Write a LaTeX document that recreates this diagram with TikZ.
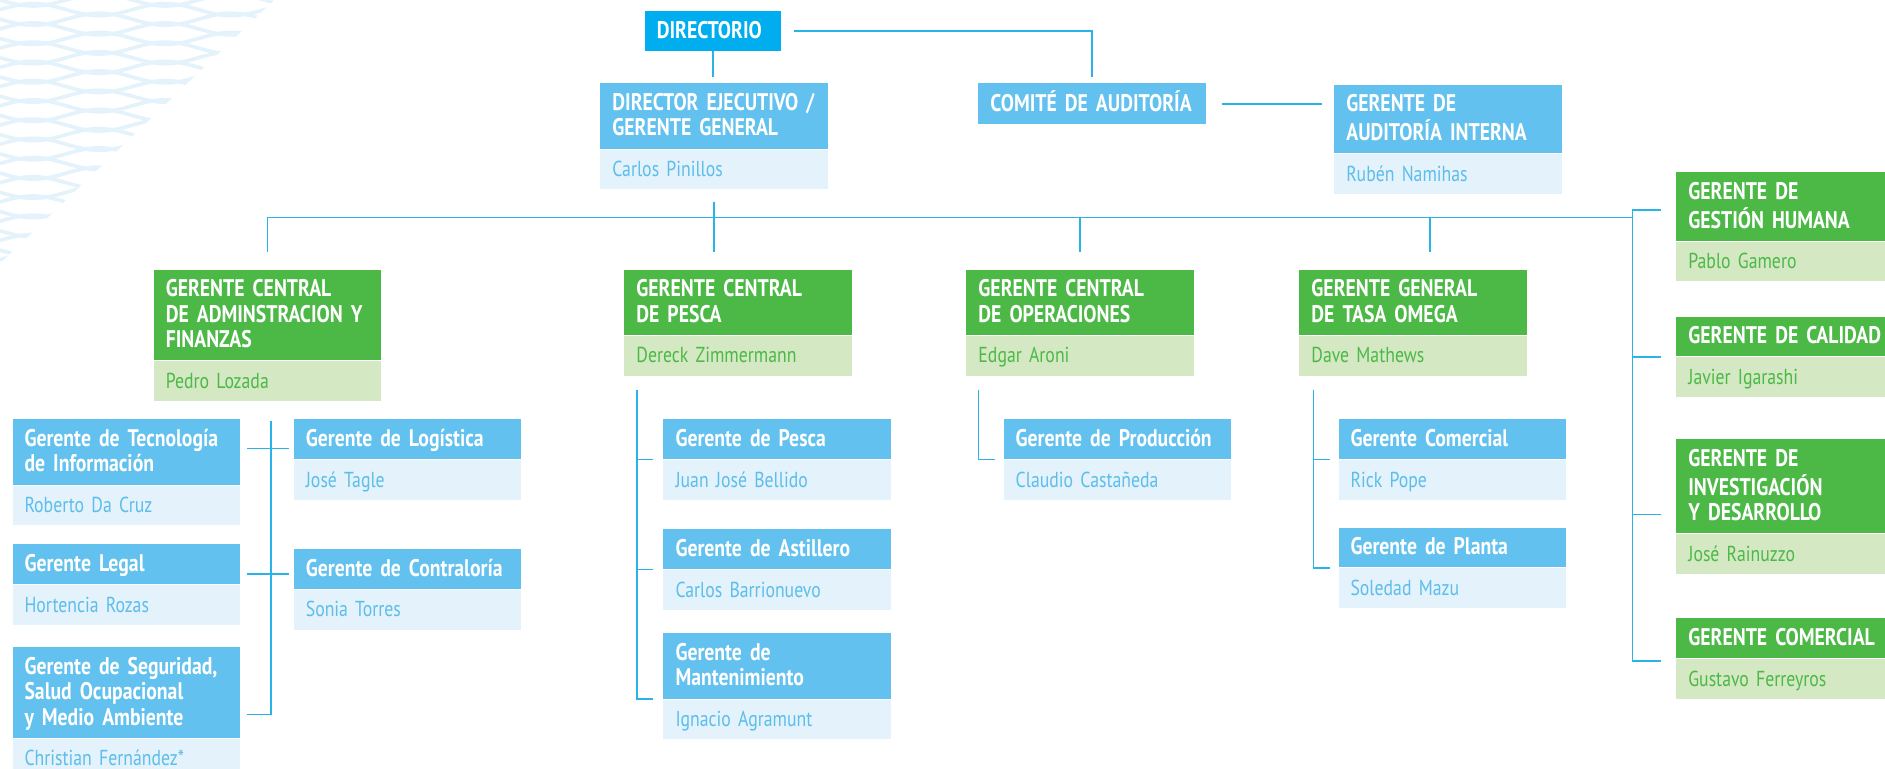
\documentclass[tikz,border=0pt]{standalone}
\usepackage{fontspec}
\setmainfont{PT Sans}[FakeStretch=0.82]
\usetikzlibrary{positioning}
\definecolor{dirblue}{HTML}{00AEEF}
\definecolor{hdrblue}{HTML}{62C1EE}
\definecolor{bandblue}{HTML}{E3F2FB}
\definecolor{txtblue}{HTML}{5DBDEB}
\definecolor{hdrgreen}{HTML}{4CB947}
\definecolor{bandgreen}{HTML}{D3E8C3}
\definecolor{txtgreen}{HTML}{4CB947}
\definecolor{linkblue}{HTML}{29B3E8}
\definecolor{netblue}{HTML}{E3F2FB}
\newcommand{\boxstrut}{\rule[-2.25pt]{0pt}{10.5pt}}

\begin{document}
\begin{tikzpicture}[x=0.5pt, y=-0.5pt]
		\tikzset{
			box/.style={rectangle, align=left, text width=84.5pt, inner xsep=5pt, inner ysep=3pt,
			execute at begin node=\boxstrut, execute at end node=\boxstrut},
			headblue/.style={box, anchor=north west, fill=hdrblue, text=white, font=\bfseries\fontsize{10}{10.6}\selectfont},
			headgreen/.style={box, anchor=north west, fill=hdrgreen, text=white, font=\bfseries\fontsize{10}{10.6}\selectfont},
			bandb/.style={box, fill=bandblue, text=txtblue, font=\fontsize{9}{10.6}\selectfont},
			bandg/.style={box, fill=bandgreen, text=txtgreen, font=\fontsize{9}{10.6}\selectfont},
			link/.style={draw=linkblue, line width=0.6pt},
			net/.style={draw=netblue, line width=1.5pt}
		}
		\useasboundingbox (0,0) rectangle (1568,639);

		% background net
		\begin{scope}
			\clip (0,0) -- (228,0) -- (0,219) -- cycle;
			\foreach \r in {-16,0,...,232} {
				\draw[net] plot[domain=0:240, samples=61] (\x, {\r + 5*sin(\x*3.27)});
				\draw[net] plot[domain=0:240, samples=61] (\x, {\r + 8 - 5*sin(\x*3.27)});
			}
		\end{scope}

		% top
		\node[headblue, fill=dirblue, text width=46.75pt] (dir) at (536,9) {DIRECTORIO};
		\node[headblue] (ceo) at (499,69) {\mbox{DIRECTOR EJECUTIVO /}\\GERENTE GENERAL};
		\node[bandb, below=0pt of ceo] (ceoN) {Carlos Pinillos};
		\node[headblue] (comite) at (813.5,69) {\mbox{COMITÉ DE AUDITORÍA}};
		\node[headblue] (audit) at (1109.5,70) {GERENTE DE\\AUDITORÍA INTERNA};
		\node[bandb, below=0pt of audit] (auditN) {Rubén Namihas};

		% gerencias centrales
		\node[headgreen] (adm) at (127.5,224) {GERENTE CENTRAL\\\mbox{DE ADMINSTRACION Y}\\FINANZAS};
		\node[bandg, below=0pt of adm] (admN) {Pedro Lozada};
		\node[headgreen] (pesca) at (519,224) {GERENTE CENTRAL\\DE PESCA};
		\node[bandg, below=0pt of pesca] (pescaN) {Dereck Zimmermann};
		\node[headgreen] (oper) at (803.5,224) {GERENTE CENTRAL\\DE OPERACIONES};
		\node[bandg, below=0pt of oper] (operN) {Edgar Aroni};
		\node[headgreen] (omega) at (1080.5,224) {GERENTE GENERAL\\DE TASA OMEGA};
		\node[bandg, below=0pt of omega] (omegaN) {Dave Mathews};

		% columna derecha
		\node[headgreen] (gh) at (1394,143) {GERENTE DE\\GESTIÓN HUMANA};
		\node[bandg, below=0pt of gh] (ghN) {Pablo Gamero};
		\node[headgreen] (cal) at (1394,263) {\mbox{GERENTE DE CALIDAD}};
		\node[bandg, below=0pt of cal] (calN) {Javier Igarashi};
		\node[headgreen] (inv) at (1394,365) {GERENTE DE\\INVESTIGACIÓN\\Y DESARROLLO};
		\node[bandg, below=0pt of inv] (invN) {José Rainuzzo};
		\node[headgreen] (com) at (1394,514) {\mbox{GERENTE COMERCIAL}};
		\node[bandg, below=0pt of com] (comN) {Gustavo Ferreyros};

		% administracion y finanzas
		\node[headblue] (tec) at (10,348.5) {\mbox{Gerente de Tecnología}\\de Información};
		\node[bandb, below=0pt of tec] (tecN) {Roberto Da Cruz};
		\node[headblue] (legal) at (10,452.5) {Gerente Legal};
		\node[bandb, below=0pt of legal] (legalN) {Hortencia Rozas};
		\node[headblue] (seg) at (10,538) {\mbox{Gerente de Seguridad,}\\Salud Ocupacional\\y Medio Ambiente};
		\node[bandb, below=0pt of seg] (segN) {Christian Fernández*};
		\node[headblue] (log) at (244,348.5) {Gerente de Logística};
		\node[bandb, below=0pt of log] (logN) {José Tagle};
		\node[headblue] (contra) at (244,456.5) {Gerente de Contraloría};
		\node[bandb, below=0pt of contra] (contraN) {Sonia Torres};

		% pesca
		\node[headblue] (gpes) at (551.5,348.5) {Gerente de Pesca};
		\node[bandb, below=0pt of gpes] (gpesN) {Juan José Bellido};
		\node[headblue] (ast) at (551.5,440) {Gerente de Astillero};
		\node[bandb, below=0pt of ast] (astN) {Carlos Barrionuevo};
		\node[headblue] (mant) at (551.5,526.5) {Gerente de\\Mantenimiento};
		\node[bandb, below=0pt of mant] (mantN) {Ignacio Agramunt};

		% operaciones y tasa omega
		\node[headblue] (prod) at (834.5,348.5) {\mbox{Gerente de Producción}};
		\node[bandb, below=0pt of prod] (prodN) {Claudio Castañeda};
		\node[headblue] (gcom) at (1113,348.5) {Gerente Comercial};
		\node[bandb, below=0pt of gcom] (gcomN) {Rick Pope};
		\node[headblue] (planta) at (1113,438.5) {Gerente de Planta};
		\node[bandb, below=0pt of planta] (plantaN) {Soledad Mazu};

		% lineas
		\coordinate (bus) at (594,181);
		\coordinate (spine) at (1358,181);
		\draw[link, shorten >=2.5pt] (dir.south) -- (dir.south |- ceo.north);
		\draw[link, shorten <=5pt, shorten >=2.5pt] (dir.east) -| (comite.north);
		\draw[link, shorten <=6.5pt, shorten >=5pt] (comite.east) -- (comite.east -| audit.west);

		\draw[link] ([yshift=-5pt]ceoN.south) -- ([yshift=7pt]ceoN.south |- pesca.north);
		\draw[link] ([yshift=7pt]adm.north) |- (spine);
		\draw[link] ([yshift=7pt]oper.north) -- (oper.north |- bus);
		\draw[link] ([xshift=7pt,yshift=7pt]omega.north) -- ([xshift=7pt]omega.north |- bus);

		\draw[link] ([xshift=-6pt,yshift=-1.5pt]gh.west) -| ([xshift=-18pt,yshift=-1pt]com.south west) -- ([xshift=-6pt,yshift=-1pt]com.south west);
		\draw[link] ([xshift=-6pt]cal.south west) -- +(-12pt,0);
		\draw[link] ([xshift=-6pt,yshift=8pt]invN.north west) -- +(-12pt,0);

		\draw[link] ([xshift=1.5pt,yshift=-8pt]admN.south) |- ([xshift=3pt,yshift=10pt]seg.south east);
		\draw[link] ([xshift=3pt,yshift=1.5pt]tec.east) -- ([xshift=-2pt,yshift=1.5pt]tec.east -| log.west);
		\draw[link] ([xshift=3pt,yshift=-4pt]legal.east) -- ([xshift=-2pt,yshift=-4pt]legal.east -| contra.west);

		\draw[link] ([xshift=5.5pt,yshift=-6pt]pescaN.south west) |- ([xshift=-4pt]mant.south west);
		\draw[link] ([xshift=-4pt]gpes.south west) -- +(-7pt,0);
		\draw[link] ([xshift=-4pt]ast.south west) -- +(-7pt,0);

		\draw[link] ([xshift=5.25pt,yshift=-6pt]operN.south west) |- ([xshift=-3.3pt]prod.south west);

		\draw[link] ([xshift=6pt,yshift=-6pt]omegaN.south west) |- ([xshift=-3.5pt]planta.south west);
		\draw[link] ([xshift=-3.5pt]gcom.south west) -- +(-6.5pt,0);
	\end{tikzpicture}
\end{document}
